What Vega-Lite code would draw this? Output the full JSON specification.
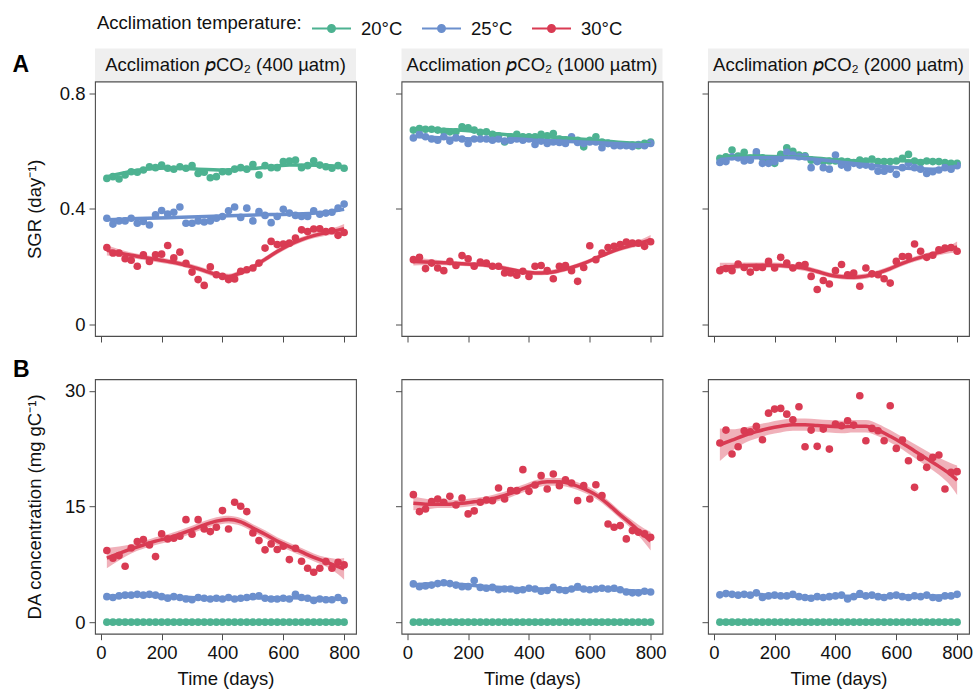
{
"$schema": "https://vega.github.io/schema/vega-lite/v6.json",
"padding": {"left": 12, "top": 7.5, "right": 2, "bottom": 3},
"config": {
  "font": "Liberation Sans",
  "view": {"stroke": "#4d4d4d", "strokeWidth": 1.1},
  "axis": {"grid": false, "domain": false, "ticks": true, "tickSize": 6, "tickColor": "#4d4d4d", "tickWidth": 1, "labelFontSize": 18.5, "titleFontSize": 18.5, "labelColor": "#111", "titleColor": "#111", "titleFontWeight": "normal", "labelPadding": 4},
  "title": {"color": "#000", "font": "Liberation Sans"}
},
"datasets": {
"pA400": [
{"t":"20°C","d":20,"v":0.505},{"t":"20°C","d":40,"v":0.511},{"t":"20°C","d":60,"v":0.503},{"t":"20°C","d":80,"v":0.517},{"t":"20°C","d":100,"v":0.528},{"t":"20°C","d":120,"v":0.526},{"t":"20°C","d":140,"v":0.534},{"t":"20°C","d":160,"v":0.545},{"t":"20°C","d":180,"v":0.542},{"t":"20°C","d":200,"v":0.551},{"t":"20°C","d":220,"v":0.540},{"t":"20°C","d":240,"v":0.537},{"t":"20°C","d":260,"v":0.545},{"t":"20°C","d":280,"v":0.540},{"t":"20°C","d":300,"v":0.549},{"t":"20°C","d":320,"v":0.522},{"t":"20°C","d":340,"v":0.526},{"t":"20°C","d":360,"v":0.507},{"t":"20°C","d":380,"v":0.511},{"t":"20°C","d":400,"v":0.528},{"t":"20°C","d":420,"v":0.528},{"t":"20°C","d":440,"v":0.537},{"t":"20°C","d":460,"v":0.542},{"t":"20°C","d":480,"v":0.537},{"t":"20°C","d":500,"v":0.553},{"t":"20°C","d":520,"v":0.517},{"t":"20°C","d":540,"v":0.549},{"t":"20°C","d":560,"v":0.542},{"t":"20°C","d":580,"v":0.542},{"t":"20°C","d":600,"v":0.563},{"t":"20°C","d":620,"v":0.565},{"t":"20°C","d":640,"v":0.568},{"t":"20°C","d":660,"v":0.542},{"t":"20°C","d":680,"v":0.549},{"t":"20°C","d":700,"v":0.566},{"t":"20°C","d":720,"v":0.551},{"t":"20°C","d":740,"v":0.545},{"t":"20°C","d":760,"v":0.540},{"t":"20°C","d":780,"v":0.549},{"t":"20°C","d":800,"v":0.540},
{"t":"25°C","d":20,"v":0.367},{"t":"25°C","d":40,"v":0.347},{"t":"25°C","d":60,"v":0.358},{"t":"25°C","d":80,"v":0.358},{"t":"25°C","d":100,"v":0.367},{"t":"25°C","d":120,"v":0.350},{"t":"25°C","d":140,"v":0.356},{"t":"25°C","d":160,"v":0.344},{"t":"25°C","d":180,"v":0.379},{"t":"25°C","d":200,"v":0.394},{"t":"25°C","d":220,"v":0.382},{"t":"25°C","d":240,"v":0.388},{"t":"25°C","d":260,"v":0.406},{"t":"25°C","d":280,"v":0.350},{"t":"25°C","d":300,"v":0.350},{"t":"25°C","d":320,"v":0.358},{"t":"25°C","d":340,"v":0.354},{"t":"25°C","d":360,"v":0.358},{"t":"25°C","d":380,"v":0.367},{"t":"25°C","d":400,"v":0.373},{"t":"25°C","d":420,"v":0.393},{"t":"25°C","d":440,"v":0.406},{"t":"25°C","d":460,"v":0.370},{"t":"25°C","d":480,"v":0.402},{"t":"25°C","d":500,"v":0.358},{"t":"25°C","d":520,"v":0.390},{"t":"25°C","d":540,"v":0.377},{"t":"25°C","d":560,"v":0.352},{"t":"25°C","d":580,"v":0.373},{"t":"25°C","d":600,"v":0.398},{"t":"25°C","d":620,"v":0.385},{"t":"25°C","d":640,"v":0.377},{"t":"25°C","d":660,"v":0.373},{"t":"25°C","d":680,"v":0.373},{"t":"25°C","d":700,"v":0.393},{"t":"25°C","d":720,"v":0.381},{"t":"25°C","d":740,"v":0.385},{"t":"25°C","d":760,"v":0.388},{"t":"25°C","d":780,"v":0.402},{"t":"25°C","d":800,"v":0.416},
{"t":"30°C","d":20,"v":0.266},{"t":"30°C","d":40,"v":0.247},{"t":"30°C","d":60,"v":0.247},{"t":"30°C","d":80,"v":0.227},{"t":"30°C","d":100,"v":0.222},{"t":"30°C","d":120,"v":0.201},{"t":"30°C","d":140,"v":0.241},{"t":"30°C","d":160,"v":0.218},{"t":"30°C","d":180,"v":0.241},{"t":"30°C","d":200,"v":0.243},{"t":"30°C","d":220,"v":0.273},{"t":"30°C","d":240,"v":0.230},{"t":"30°C","d":260,"v":0.250},{"t":"30°C","d":280,"v":0.211},{"t":"30°C","d":300,"v":0.181},{"t":"30°C","d":320,"v":0.155},{"t":"30°C","d":340,"v":0.135},{"t":"30°C","d":360,"v":0.199},{"t":"30°C","d":380,"v":0.172},{"t":"30°C","d":400,"v":0.166},{"t":"30°C","d":420,"v":0.155},{"t":"30°C","d":440,"v":0.157},{"t":"30°C","d":460,"v":0.184},{"t":"30°C","d":480,"v":0.189},{"t":"30°C","d":500,"v":0.195},{"t":"30°C","d":520,"v":0.212},{"t":"30°C","d":540,"v":0.264},{"t":"30°C","d":560,"v":0.287},{"t":"30°C","d":580,"v":0.276},{"t":"30°C","d":600,"v":0.278},{"t":"30°C","d":620,"v":0.281},{"t":"30°C","d":640,"v":0.299},{"t":"30°C","d":660,"v":0.327},{"t":"30°C","d":680,"v":0.321},{"t":"30°C","d":700,"v":0.330},{"t":"30°C","d":720,"v":0.331},{"t":"30°C","d":740,"v":0.321},{"t":"30°C","d":760,"v":0.324},{"t":"30°C","d":780,"v":0.308},{"t":"30°C","d":800,"v":0.318}
],
"fA400": [
{"t":"20°C","d":20,"f":0.510},{"t":"20°C","d":120,"f":0.533},{"t":"20°C","d":220,"f":0.541},{"t":"20°C","d":320,"f":0.537},{"t":"20°C","d":420,"f":0.534},{"t":"20°C","d":520,"f":0.541},{"t":"20°C","d":620,"f":0.551},{"t":"20°C","d":720,"f":0.550},{"t":"20°C","d":800,"f":0.545},
{"t":"25°C","d":20,"f":0.362},{"t":"25°C","d":120,"f":0.366},{"t":"25°C","d":220,"f":0.369},{"t":"25°C","d":320,"f":0.372},{"t":"25°C","d":420,"f":0.376},{"t":"25°C","d":520,"f":0.379},{"t":"25°C","d":620,"f":0.381},{"t":"25°C","d":720,"f":0.386},{"t":"25°C","d":800,"f":0.398},
{"t":"30°C","d":20,"f":0.256,"lo":0.238,"hi":0.274},{"t":"30°C","d":60,"f":0.247,"lo":0.234,"hi":0.260},{"t":"30°C","d":100,"f":0.239,"lo":0.229,"hi":0.249},{"t":"30°C","d":140,"f":0.232,"lo":0.223,"hi":0.241},{"t":"30°C","d":180,"f":0.225,"lo":0.216,"hi":0.234},{"t":"30°C","d":220,"f":0.218,"lo":0.209,"hi":0.227},{"t":"30°C","d":260,"f":0.210,"lo":0.201,"hi":0.219},{"t":"30°C","d":300,"f":0.199,"lo":0.190,"hi":0.208},{"t":"30°C","d":340,"f":0.186,"lo":0.177,"hi":0.195},{"t":"30°C","d":380,"f":0.172,"lo":0.163,"hi":0.181},{"t":"30°C","d":420,"f":0.166,"lo":0.157,"hi":0.175},{"t":"30°C","d":460,"f":0.178,"lo":0.169,"hi":0.187},{"t":"30°C","d":500,"f":0.198,"lo":0.189,"hi":0.207},{"t":"30°C","d":540,"f":0.225,"lo":0.216,"hi":0.234},{"t":"30°C","d":580,"f":0.252,"lo":0.243,"hi":0.261},{"t":"30°C","d":620,"f":0.275,"lo":0.266,"hi":0.284},{"t":"30°C","d":660,"f":0.293,"lo":0.284,"hi":0.302},{"t":"30°C","d":700,"f":0.307,"lo":0.298,"hi":0.316},{"t":"30°C","d":740,"f":0.317,"lo":0.307,"hi":0.327},{"t":"30°C","d":780,"f":0.326,"lo":0.313,"hi":0.339},{"t":"30°C","d":800,"f":0.331,"lo":0.315,"hi":0.347}
],
"pA1000": [
{"t":"20°C","d":20,"v":0.672},{"t":"20°C","d":40,"v":0.677},{"t":"20°C","d":60,"v":0.675},{"t":"20°C","d":80,"v":0.675},{"t":"20°C","d":100,"v":0.672},{"t":"20°C","d":120,"v":0.668},{"t":"20°C","d":140,"v":0.666},{"t":"20°C","d":160,"v":0.666},{"t":"20°C","d":180,"v":0.683},{"t":"20°C","d":200,"v":0.680},{"t":"20°C","d":220,"v":0.672},{"t":"20°C","d":240,"v":0.664},{"t":"20°C","d":260,"v":0.666},{"t":"20°C","d":280,"v":0.657},{"t":"20°C","d":300,"v":0.652},{"t":"20°C","d":320,"v":0.631},{"t":"20°C","d":340,"v":0.649},{"t":"20°C","d":360,"v":0.657},{"t":"20°C","d":380,"v":0.649},{"t":"20°C","d":400,"v":0.649},{"t":"20°C","d":420,"v":0.649},{"t":"20°C","d":440,"v":0.657},{"t":"20°C","d":460,"v":0.652},{"t":"20°C","d":480,"v":0.660},{"t":"20°C","d":500,"v":0.641},{"t":"20°C","d":520,"v":0.638},{"t":"20°C","d":540,"v":0.643},{"t":"20°C","d":560,"v":0.637},{"t":"20°C","d":580,"v":0.614},{"t":"20°C","d":600,"v":0.637},{"t":"20°C","d":620,"v":0.649},{"t":"20°C","d":640,"v":0.631},{"t":"20°C","d":660,"v":0.626},{"t":"20°C","d":680,"v":0.622},{"t":"20°C","d":700,"v":0.620},{"t":"20°C","d":720,"v":0.620},{"t":"20°C","d":740,"v":0.620},{"t":"20°C","d":760,"v":0.618},{"t":"20°C","d":780,"v":0.626},{"t":"20°C","d":800,"v":0.631},
{"t":"25°C","d":20,"v":0.645},{"t":"25°C","d":40,"v":0.657},{"t":"25°C","d":60,"v":0.649},{"t":"25°C","d":80,"v":0.641},{"t":"25°C","d":100,"v":0.637},{"t":"25°C","d":120,"v":0.649},{"t":"25°C","d":140,"v":0.634},{"t":"25°C","d":160,"v":0.645},{"t":"25°C","d":180,"v":0.641},{"t":"25°C","d":200,"v":0.626},{"t":"25°C","d":220,"v":0.641},{"t":"25°C","d":240,"v":0.641},{"t":"25°C","d":260,"v":0.641},{"t":"25°C","d":280,"v":0.637},{"t":"25°C","d":300,"v":0.641},{"t":"25°C","d":320,"v":0.634},{"t":"25°C","d":340,"v":0.637},{"t":"25°C","d":360,"v":0.641},{"t":"25°C","d":380,"v":0.637},{"t":"25°C","d":400,"v":0.641},{"t":"25°C","d":420,"v":0.622},{"t":"25°C","d":440,"v":0.634},{"t":"25°C","d":460,"v":0.626},{"t":"25°C","d":480,"v":0.631},{"t":"25°C","d":500,"v":0.629},{"t":"25°C","d":520,"v":0.626},{"t":"25°C","d":540,"v":0.649},{"t":"25°C","d":560,"v":0.629},{"t":"25°C","d":580,"v":0.626},{"t":"25°C","d":600,"v":0.631},{"t":"25°C","d":620,"v":0.631},{"t":"25°C","d":640,"v":0.611},{"t":"25°C","d":660,"v":0.626},{"t":"25°C","d":680,"v":0.618},{"t":"25°C","d":700,"v":0.618},{"t":"25°C","d":720,"v":0.618},{"t":"25°C","d":740,"v":0.615},{"t":"25°C","d":760,"v":0.622},{"t":"25°C","d":780,"v":0.618},{"t":"25°C","d":800,"v":0.626},
{"t":"30°C","d":20,"v":0.224},{"t":"30°C","d":40,"v":0.232},{"t":"30°C","d":60,"v":0.193},{"t":"30°C","d":80,"v":0.212},{"t":"30°C","d":100,"v":0.195},{"t":"30°C","d":120,"v":0.186},{"t":"30°C","d":140,"v":0.218},{"t":"30°C","d":160,"v":0.204},{"t":"30°C","d":180,"v":0.238},{"t":"30°C","d":200,"v":0.227},{"t":"30°C","d":220,"v":0.201},{"t":"30°C","d":240,"v":0.216},{"t":"30°C","d":260,"v":0.212},{"t":"30°C","d":280,"v":0.201},{"t":"30°C","d":300,"v":0.201},{"t":"30°C","d":320,"v":0.178},{"t":"30°C","d":340,"v":0.178},{"t":"30°C","d":360,"v":0.170},{"t":"30°C","d":380,"v":0.184},{"t":"30°C","d":400,"v":0.166},{"t":"30°C","d":420,"v":0.201},{"t":"30°C","d":440,"v":0.204},{"t":"30°C","d":460,"v":0.186},{"t":"30°C","d":480,"v":0.158},{"t":"30°C","d":500,"v":0.201},{"t":"30°C","d":520,"v":0.204},{"t":"30°C","d":540,"v":0.186},{"t":"30°C","d":560,"v":0.149},{"t":"30°C","d":580,"v":0.197},{"t":"30°C","d":600,"v":0.272},{"t":"30°C","d":620,"v":0.224},{"t":"30°C","d":640,"v":0.247},{"t":"30°C","d":660,"v":0.266},{"t":"30°C","d":680,"v":0.270},{"t":"30°C","d":700,"v":0.276},{"t":"30°C","d":720,"v":0.285},{"t":"30°C","d":740,"v":0.281},{"t":"30°C","d":760,"v":0.281},{"t":"30°C","d":780,"v":0.270},{"t":"30°C","d":800,"v":0.286}
],
"fA1000": [
{"t":"20°C","d":20,"f":0.675},{"t":"20°C","d":120,"f":0.674},{"t":"20°C","d":220,"f":0.668},{"t":"20°C","d":320,"f":0.657},{"t":"20°C","d":420,"f":0.650},{"t":"20°C","d":520,"f":0.645},{"t":"20°C","d":620,"f":0.637},{"t":"20°C","d":720,"f":0.628},{"t":"20°C","d":800,"f":0.625},
{"t":"25°C","d":20,"f":0.650},{"t":"25°C","d":120,"f":0.645},{"t":"25°C","d":220,"f":0.641},{"t":"25°C","d":320,"f":0.638},{"t":"25°C","d":420,"f":0.637},{"t":"25°C","d":520,"f":0.633},{"t":"25°C","d":620,"f":0.629},{"t":"25°C","d":720,"f":0.623},{"t":"25°C","d":800,"f":0.621},
{"t":"30°C","d":20,"f":0.218,"lo":0.204,"hi":0.232},{"t":"30°C","d":60,"f":0.216,"lo":0.205,"hi":0.227},{"t":"30°C","d":100,"f":0.214,"lo":0.205,"hi":0.223},{"t":"30°C","d":140,"f":0.212,"lo":0.204,"hi":0.220},{"t":"30°C","d":180,"f":0.210,"lo":0.202,"hi":0.218},{"t":"30°C","d":220,"f":0.208,"lo":0.200,"hi":0.216},{"t":"30°C","d":260,"f":0.205,"lo":0.197,"hi":0.213},{"t":"30°C","d":300,"f":0.198,"lo":0.190,"hi":0.206},{"t":"30°C","d":340,"f":0.190,"lo":0.182,"hi":0.198},{"t":"30°C","d":380,"f":0.182,"lo":0.174,"hi":0.190},{"t":"30°C","d":420,"f":0.178,"lo":0.170,"hi":0.186},{"t":"30°C","d":460,"f":0.179,"lo":0.171,"hi":0.187},{"t":"30°C","d":500,"f":0.186,"lo":0.178,"hi":0.194},{"t":"30°C","d":540,"f":0.197,"lo":0.189,"hi":0.205},{"t":"30°C","d":580,"f":0.211,"lo":0.203,"hi":0.219},{"t":"30°C","d":620,"f":0.229,"lo":0.221,"hi":0.237},{"t":"30°C","d":660,"f":0.247,"lo":0.239,"hi":0.255},{"t":"30°C","d":700,"f":0.262,"lo":0.254,"hi":0.270},{"t":"30°C","d":740,"f":0.274,"lo":0.265,"hi":0.283},{"t":"30°C","d":780,"f":0.286,"lo":0.273,"hi":0.299},{"t":"30°C","d":800,"f":0.293,"lo":0.277,"hi":0.309}
],
"pA2000": [
{"t":"20°C","d":20,"v":0.574},{"t":"20°C","d":40,"v":0.580},{"t":"20°C","d":60,"v":0.603},{"t":"20°C","d":80,"v":0.582},{"t":"20°C","d":100,"v":0.595},{"t":"20°C","d":120,"v":0.574},{"t":"20°C","d":140,"v":0.588},{"t":"20°C","d":160,"v":0.576},{"t":"20°C","d":180,"v":0.568},{"t":"20°C","d":200,"v":0.557},{"t":"20°C","d":220,"v":0.588},{"t":"20°C","d":240,"v":0.611},{"t":"20°C","d":260,"v":0.599},{"t":"20°C","d":280,"v":0.586},{"t":"20°C","d":300,"v":0.583},{"t":"20°C","d":320,"v":0.568},{"t":"20°C","d":340,"v":0.565},{"t":"20°C","d":360,"v":0.563},{"t":"20°C","d":380,"v":0.565},{"t":"20°C","d":400,"v":0.565},{"t":"20°C","d":420,"v":0.565},{"t":"20°C","d":440,"v":0.563},{"t":"20°C","d":460,"v":0.560},{"t":"20°C","d":480,"v":0.568},{"t":"20°C","d":500,"v":0.565},{"t":"20°C","d":520,"v":0.572},{"t":"20°C","d":540,"v":0.563},{"t":"20°C","d":560,"v":0.563},{"t":"20°C","d":580,"v":0.563},{"t":"20°C","d":600,"v":0.565},{"t":"20°C","d":620,"v":0.574},{"t":"20°C","d":640,"v":0.588},{"t":"20°C","d":660,"v":0.565},{"t":"20°C","d":680,"v":0.560},{"t":"20°C","d":700,"v":0.565},{"t":"20°C","d":720,"v":0.563},{"t":"20°C","d":740,"v":0.563},{"t":"20°C","d":760,"v":0.560},{"t":"20°C","d":780,"v":0.557},{"t":"20°C","d":800,"v":0.557},
{"t":"25°C","d":20,"v":0.560},{"t":"25°C","d":40,"v":0.563},{"t":"25°C","d":60,"v":0.580},{"t":"25°C","d":80,"v":0.576},{"t":"25°C","d":100,"v":0.565},{"t":"25°C","d":120,"v":0.568},{"t":"25°C","d":140,"v":0.597},{"t":"25°C","d":160,"v":0.557},{"t":"25°C","d":180,"v":0.557},{"t":"25°C","d":200,"v":0.563},{"t":"25°C","d":220,"v":0.574},{"t":"25°C","d":240,"v":0.595},{"t":"25°C","d":260,"v":0.586},{"t":"25°C","d":280,"v":0.580},{"t":"25°C","d":300,"v":0.580},{"t":"25°C","d":320,"v":0.542},{"t":"25°C","d":340,"v":0.563},{"t":"25°C","d":360,"v":0.542},{"t":"25°C","d":380,"v":0.537},{"t":"25°C","d":400,"v":0.586},{"t":"25°C","d":420,"v":0.551},{"t":"25°C","d":440,"v":0.542},{"t":"25°C","d":460,"v":0.557},{"t":"25°C","d":480,"v":0.551},{"t":"25°C","d":500,"v":0.551},{"t":"25°C","d":520,"v":0.545},{"t":"25°C","d":540,"v":0.530},{"t":"25°C","d":560,"v":0.530},{"t":"25°C","d":580,"v":0.537},{"t":"25°C","d":600,"v":0.519},{"t":"25°C","d":620,"v":0.542},{"t":"25°C","d":640,"v":0.557},{"t":"25°C","d":660,"v":0.542},{"t":"25°C","d":680,"v":0.537},{"t":"25°C","d":700,"v":0.522},{"t":"25°C","d":720,"v":0.528},{"t":"25°C","d":740,"v":0.534},{"t":"25°C","d":760,"v":0.542},{"t":"25°C","d":780,"v":0.537},{"t":"25°C","d":800,"v":0.549},
{"t":"30°C","d":20,"v":0.186},{"t":"30°C","d":40,"v":0.193},{"t":"30°C","d":60,"v":0.186},{"t":"30°C","d":80,"v":0.209},{"t":"30°C","d":100,"v":0.197},{"t":"30°C","d":120,"v":0.181},{"t":"30°C","d":140,"v":0.197},{"t":"30°C","d":160,"v":0.197},{"t":"30°C","d":180,"v":0.218},{"t":"30°C","d":200,"v":0.195},{"t":"30°C","d":220,"v":0.232},{"t":"30°C","d":240,"v":0.212},{"t":"30°C","d":260,"v":0.195},{"t":"30°C","d":280,"v":0.204},{"t":"30°C","d":300,"v":0.207},{"t":"30°C","d":320,"v":0.166},{"t":"30°C","d":340,"v":0.121},{"t":"30°C","d":360,"v":0.152},{"t":"30°C","d":380,"v":0.140},{"t":"30°C","d":400,"v":0.186},{"t":"30°C","d":420,"v":0.207},{"t":"30°C","d":440,"v":0.172},{"t":"30°C","d":460,"v":0.178},{"t":"30°C","d":480,"v":0.132},{"t":"30°C","d":500,"v":0.195},{"t":"30°C","d":520,"v":0.175},{"t":"30°C","d":540,"v":0.172},{"t":"30°C","d":560,"v":0.158},{"t":"30°C","d":580,"v":0.143},{"t":"30°C","d":600,"v":0.218},{"t":"30°C","d":620,"v":0.235},{"t":"30°C","d":640,"v":0.235},{"t":"30°C","d":660,"v":0.278},{"t":"30°C","d":680,"v":0.253},{"t":"30°C","d":700,"v":0.232},{"t":"30°C","d":720,"v":0.239},{"t":"30°C","d":740,"v":0.258},{"t":"30°C","d":760,"v":0.264},{"t":"30°C","d":780,"v":0.266},{"t":"30°C","d":800,"v":0.253}
],
"fA2000": [
{"t":"20°C","d":20,"f":0.578},{"t":"20°C","d":120,"f":0.582},{"t":"20°C","d":220,"f":0.580},{"t":"20°C","d":320,"f":0.576},{"t":"20°C","d":420,"f":0.568},{"t":"20°C","d":520,"f":0.565},{"t":"20°C","d":620,"f":0.566},{"t":"20°C","d":720,"f":0.563},{"t":"20°C","d":800,"f":0.558},
{"t":"25°C","d":20,"f":0.570},{"t":"25°C","d":120,"f":0.576},{"t":"25°C","d":220,"f":0.577},{"t":"25°C","d":320,"f":0.572},{"t":"25°C","d":420,"f":0.561},{"t":"25°C","d":520,"f":0.550},{"t":"25°C","d":620,"f":0.541},{"t":"25°C","d":720,"f":0.537},{"t":"25°C","d":800,"f":0.545},
{"t":"30°C","d":20,"f":0.195,"lo":0.177,"hi":0.213},{"t":"30°C","d":60,"f":0.200,"lo":0.187,"hi":0.213},{"t":"30°C","d":100,"f":0.204,"lo":0.194,"hi":0.214},{"t":"30°C","d":140,"f":0.205,"lo":0.196,"hi":0.214},{"t":"30°C","d":180,"f":0.205,"lo":0.196,"hi":0.214},{"t":"30°C","d":220,"f":0.204,"lo":0.195,"hi":0.213},{"t":"30°C","d":260,"f":0.200,"lo":0.191,"hi":0.209},{"t":"30°C","d":300,"f":0.194,"lo":0.185,"hi":0.203},{"t":"30°C","d":340,"f":0.183,"lo":0.174,"hi":0.192},{"t":"30°C","d":380,"f":0.171,"lo":0.162,"hi":0.180},{"t":"30°C","d":420,"f":0.165,"lo":0.156,"hi":0.174},{"t":"30°C","d":460,"f":0.163,"lo":0.154,"hi":0.172},{"t":"30°C","d":500,"f":0.167,"lo":0.158,"hi":0.176},{"t":"30°C","d":540,"f":0.178,"lo":0.169,"hi":0.187},{"t":"30°C","d":580,"f":0.193,"lo":0.184,"hi":0.202},{"t":"30°C","d":620,"f":0.211,"lo":0.202,"hi":0.220},{"t":"30°C","d":660,"f":0.226,"lo":0.217,"hi":0.235},{"t":"30°C","d":700,"f":0.238,"lo":0.229,"hi":0.247},{"t":"30°C","d":740,"f":0.249,"lo":0.239,"hi":0.259},{"t":"30°C","d":780,"f":0.261,"lo":0.247,"hi":0.275},{"t":"30°C","d":800,"f":0.268,"lo":0.249,"hi":0.287}
],
"pB400": [
{"t":"20°C","d":20,"v":0},{"t":"20°C","d":40,"v":0},{"t":"20°C","d":60,"v":0},{"t":"20°C","d":80,"v":0},{"t":"20°C","d":100,"v":0},{"t":"20°C","d":120,"v":0},{"t":"20°C","d":140,"v":0},{"t":"20°C","d":160,"v":0},{"t":"20°C","d":180,"v":0},{"t":"20°C","d":200,"v":0},{"t":"20°C","d":220,"v":0},{"t":"20°C","d":240,"v":0},{"t":"20°C","d":260,"v":0},{"t":"20°C","d":280,"v":0},{"t":"20°C","d":300,"v":0},{"t":"20°C","d":320,"v":0},{"t":"20°C","d":340,"v":0},{"t":"20°C","d":360,"v":0},{"t":"20°C","d":380,"v":0},{"t":"20°C","d":400,"v":0},{"t":"20°C","d":420,"v":0},{"t":"20°C","d":440,"v":0},{"t":"20°C","d":460,"v":0},{"t":"20°C","d":480,"v":0},{"t":"20°C","d":500,"v":0},{"t":"20°C","d":520,"v":0},{"t":"20°C","d":540,"v":0},{"t":"20°C","d":560,"v":0},{"t":"20°C","d":580,"v":0},{"t":"20°C","d":600,"v":0},{"t":"20°C","d":620,"v":0},{"t":"20°C","d":640,"v":0},{"t":"20°C","d":660,"v":0},{"t":"20°C","d":680,"v":0},{"t":"20°C","d":700,"v":0},{"t":"20°C","d":720,"v":0},{"t":"20°C","d":740,"v":0},{"t":"20°C","d":760,"v":0},{"t":"20°C","d":780,"v":0},{"t":"20°C","d":800,"v":0},
{"t":"25°C","d":20,"v":3.3},{"t":"25°C","d":40,"v":3.2},{"t":"25°C","d":60,"v":3.4},{"t":"25°C","d":80,"v":3.5},{"t":"25°C","d":100,"v":3.5},{"t":"25°C","d":120,"v":3.6},{"t":"25°C","d":140,"v":3.5},{"t":"25°C","d":160,"v":3.6},{"t":"25°C","d":180,"v":3.5},{"t":"25°C","d":200,"v":3.3},{"t":"25°C","d":220,"v":3.1},{"t":"25°C","d":240,"v":3.3},{"t":"25°C","d":260,"v":3.2},{"t":"25°C","d":280,"v":3.0},{"t":"25°C","d":300,"v":2.9},{"t":"25°C","d":320,"v":3.2},{"t":"25°C","d":340,"v":3.1},{"t":"25°C","d":360,"v":3.0},{"t":"25°C","d":380,"v":3.1},{"t":"25°C","d":400,"v":3.0},{"t":"25°C","d":420,"v":3.2},{"t":"25°C","d":440,"v":3.0},{"t":"25°C","d":460,"v":3.1},{"t":"25°C","d":480,"v":3.2},{"t":"25°C","d":500,"v":3.3},{"t":"25°C","d":520,"v":3.4},{"t":"25°C","d":540,"v":3.1},{"t":"25°C","d":560,"v":3.0},{"t":"25°C","d":580,"v":3.0},{"t":"25°C","d":600,"v":3.1},{"t":"25°C","d":620,"v":3.0},{"t":"25°C","d":640,"v":3.6},{"t":"25°C","d":660,"v":3.2},{"t":"25°C","d":680,"v":3.1},{"t":"25°C","d":700,"v":2.8},{"t":"25°C","d":720,"v":3.0},{"t":"25°C","d":740,"v":2.9},{"t":"25°C","d":760,"v":2.9},{"t":"25°C","d":780,"v":3.2},{"t":"25°C","d":800,"v":2.8},
{"t":"30°C","d":20,"v":9.28},{"t":"30°C","d":40,"v":8.29},{"t":"30°C","d":60,"v":8.63},{"t":"30°C","d":80,"v":7.25},{"t":"30°C","d":100,"v":9.62},{"t":"30°C","d":120,"v":10.44},{"t":"30°C","d":140,"v":10.70},{"t":"30°C","d":160,"v":10.01},{"t":"30°C","d":180,"v":8.50},{"t":"30°C","d":200,"v":11.44},{"t":"30°C","d":220,"v":10.79},{"t":"30°C","d":240,"v":10.88},{"t":"30°C","d":260,"v":11.14},{"t":"30°C","d":280,"v":13.29},{"t":"30°C","d":300,"v":11.39},{"t":"30°C","d":320,"v":13.29},{"t":"30°C","d":340,"v":12.08},{"t":"30°C","d":360,"v":11.74},{"t":"30°C","d":380,"v":12.30},{"t":"30°C","d":400,"v":14.46},{"t":"30°C","d":420,"v":12.08},{"t":"30°C","d":440,"v":15.54},{"t":"30°C","d":460,"v":15.02},{"t":"30°C","d":480,"v":14.33},{"t":"30°C","d":500,"v":11.57},{"t":"30°C","d":520,"v":10.57},{"t":"30°C","d":540,"v":9.37},{"t":"30°C","d":560,"v":10.14},{"t":"30°C","d":580,"v":9.41},{"t":"30°C","d":600,"v":9.84},{"t":"30°C","d":620,"v":8.11},{"t":"30°C","d":640,"v":9.58},{"t":"30°C","d":660,"v":7.90},{"t":"30°C","d":680,"v":6.99},{"t":"30°C","d":700,"v":6.47},{"t":"30°C","d":720,"v":6.99},{"t":"30°C","d":740,"v":7.85},{"t":"30°C","d":760,"v":6.99},{"t":"30°C","d":780,"v":7.77},{"t":"30°C","d":800,"v":7.42}
],
"fB400": [
{"t":"20°C","d":20,"f":0},{"t":"20°C","d":420,"f":0},{"t":"20°C","d":800,"f":0},
{"t":"25°C","d":20,"f":3.35},{"t":"25°C","d":120,"f":3.5},{"t":"25°C","d":220,"f":3.35},{"t":"25°C","d":320,"f":3.15},{"t":"25°C","d":420,"f":3.1},{"t":"25°C","d":520,"f":3.15},{"t":"25°C","d":620,"f":3.15},{"t":"25°C","d":720,"f":3.05},{"t":"25°C","d":800,"f":3.0},
{"t":"30°C","d":20,"f":8.3,"lo":7.0,"hi":9.6},{"t":"30°C","d":60,"f":8.9,"lo":8.0,"hi":9.8},{"t":"30°C","d":100,"f":9.5,"lo":8.9,"hi":10.1},{"t":"30°C","d":140,"f":10.0,"lo":9.5,"hi":10.5},{"t":"30°C","d":180,"f":10.5,"lo":10.0,"hi":11.0},{"t":"30°C","d":220,"f":10.9,"lo":10.4,"hi":11.4},{"t":"30°C","d":260,"f":11.4,"lo":10.9,"hi":11.9},{"t":"30°C","d":300,"f":12.0,"lo":11.5,"hi":12.5},{"t":"30°C","d":340,"f":12.6,"lo":12.1,"hi":13.1},{"t":"30°C","d":380,"f":13.1,"lo":12.6,"hi":13.6},{"t":"30°C","d":420,"f":13.3,"lo":12.8,"hi":13.8},{"t":"30°C","d":460,"f":13.0,"lo":12.5,"hi":13.5},{"t":"30°C","d":500,"f":12.2,"lo":11.7,"hi":12.7},{"t":"30°C","d":540,"f":11.4,"lo":10.9,"hi":11.9},{"t":"30°C","d":580,"f":10.5,"lo":10.0,"hi":11.0},{"t":"30°C","d":620,"f":9.8,"lo":9.3,"hi":10.3},{"t":"30°C","d":660,"f":9.1,"lo":8.6,"hi":9.6},{"t":"30°C","d":700,"f":8.4,"lo":7.9,"hi":8.9},{"t":"30°C","d":740,"f":7.8,"lo":7.2,"hi":8.4},{"t":"30°C","d":780,"f":7.2,"lo":6.2,"hi":8.2},{"t":"30°C","d":800,"f":6.9,"lo":5.5,"hi":8.3}
],
"pB1000": [
{"t":"20°C","d":20,"v":0},{"t":"20°C","d":40,"v":0},{"t":"20°C","d":60,"v":0},{"t":"20°C","d":80,"v":0},{"t":"20°C","d":100,"v":0},{"t":"20°C","d":120,"v":0},{"t":"20°C","d":140,"v":0},{"t":"20°C","d":160,"v":0},{"t":"20°C","d":180,"v":0},{"t":"20°C","d":200,"v":0},{"t":"20°C","d":220,"v":0},{"t":"20°C","d":240,"v":0},{"t":"20°C","d":260,"v":0},{"t":"20°C","d":280,"v":0},{"t":"20°C","d":300,"v":0},{"t":"20°C","d":320,"v":0},{"t":"20°C","d":340,"v":0},{"t":"20°C","d":360,"v":0},{"t":"20°C","d":380,"v":0},{"t":"20°C","d":400,"v":0},{"t":"20°C","d":420,"v":0},{"t":"20°C","d":440,"v":0},{"t":"20°C","d":460,"v":0},{"t":"20°C","d":480,"v":0},{"t":"20°C","d":500,"v":0},{"t":"20°C","d":520,"v":0},{"t":"20°C","d":540,"v":0},{"t":"20°C","d":560,"v":0},{"t":"20°C","d":580,"v":0},{"t":"20°C","d":600,"v":0},{"t":"20°C","d":620,"v":0},{"t":"20°C","d":640,"v":0},{"t":"20°C","d":660,"v":0},{"t":"20°C","d":680,"v":0},{"t":"20°C","d":700,"v":0},{"t":"20°C","d":720,"v":0},{"t":"20°C","d":740,"v":0},{"t":"20°C","d":760,"v":0},{"t":"20°C","d":780,"v":0},{"t":"20°C","d":800,"v":0},
{"t":"25°C","d":20,"v":4.96},{"t":"25°C","d":40,"v":4.6},{"t":"25°C","d":60,"v":4.7},{"t":"25°C","d":80,"v":4.8},{"t":"25°C","d":100,"v":5.0},{"t":"25°C","d":120,"v":5.1},{"t":"25°C","d":140,"v":5.0},{"t":"25°C","d":160,"v":4.8},{"t":"25°C","d":180,"v":4.6},{"t":"25°C","d":200,"v":4.6},{"t":"25°C","d":220,"v":5.4},{"t":"25°C","d":240,"v":4.5},{"t":"25°C","d":260,"v":4.4},{"t":"25°C","d":280,"v":4.5},{"t":"25°C","d":300,"v":4.2},{"t":"25°C","d":320,"v":4.3},{"t":"25°C","d":340,"v":4.3},{"t":"25°C","d":360,"v":4.1},{"t":"25°C","d":380,"v":4.2},{"t":"25°C","d":400,"v":4.4},{"t":"25°C","d":420,"v":4.3},{"t":"25°C","d":440,"v":4.0},{"t":"25°C","d":460,"v":4.1},{"t":"25°C","d":480,"v":4.5},{"t":"25°C","d":500,"v":4.2},{"t":"25°C","d":520,"v":4.1},{"t":"25°C","d":540,"v":4.3},{"t":"25°C","d":560,"v":4.6},{"t":"25°C","d":580,"v":4.3},{"t":"25°C","d":600,"v":4.2},{"t":"25°C","d":620,"v":4.3},{"t":"25°C","d":640,"v":4.4},{"t":"25°C","d":660,"v":4.3},{"t":"25°C","d":680,"v":4.4},{"t":"25°C","d":700,"v":4.2},{"t":"25°C","d":720,"v":3.9},{"t":"25°C","d":740,"v":3.8},{"t":"25°C","d":760,"v":3.8},{"t":"25°C","d":780,"v":4.0},{"t":"25°C","d":800,"v":3.9},
{"t":"30°C","d":20,"v":16.53},{"t":"30°C","d":40,"v":14.33},{"t":"30°C","d":60,"v":14.67},{"t":"30°C","d":80,"v":15.62},{"t":"30°C","d":100,"v":15.97},{"t":"30°C","d":120,"v":15.54},{"t":"30°C","d":140,"v":16.31},{"t":"30°C","d":160,"v":15.19},{"t":"30°C","d":180,"v":16.10},{"t":"30°C","d":200,"v":14.03},{"t":"30°C","d":220,"v":14.42},{"t":"30°C","d":240,"v":15.54},{"t":"30°C","d":260,"v":15.84},{"t":"30°C","d":280,"v":15.75},{"t":"30°C","d":300,"v":17.39},{"t":"30°C","d":320,"v":15.97},{"t":"30°C","d":340,"v":17.05},{"t":"30°C","d":360,"v":17.05},{"t":"30°C","d":380,"v":19.77},{"t":"30°C","d":400,"v":16.96},{"t":"30°C","d":420,"v":17.78},{"t":"30°C","d":440,"v":18.99},{"t":"30°C","d":460,"v":17.26},{"t":"30°C","d":480,"v":19.21},{"t":"30°C","d":500,"v":17.70},{"t":"30°C","d":520,"v":18.47},{"t":"30°C","d":540,"v":18.04},{"t":"30°C","d":560,"v":15.75},{"t":"30°C","d":580,"v":17.70},{"t":"30°C","d":600,"v":15.97},{"t":"30°C","d":620,"v":17.82},{"t":"30°C","d":640,"v":16.40},{"t":"30°C","d":660,"v":12.73},{"t":"30°C","d":680,"v":12.30},{"t":"30°C","d":700,"v":12.52},{"t":"30°C","d":720,"v":10.79},{"t":"30°C","d":740,"v":11.87},{"t":"30°C","d":760,"v":11.65},{"t":"30°C","d":780,"v":11.44},{"t":"30°C","d":800,"v":11.01}
],
"fB1000": [
{"t":"20°C","d":20,"f":0},{"t":"20°C","d":420,"f":0},{"t":"20°C","d":800,"f":0},
{"t":"25°C","d":20,"f":4.85},{"t":"25°C","d":120,"f":5.0},{"t":"25°C","d":220,"f":4.75},{"t":"25°C","d":320,"f":4.45},{"t":"25°C","d":420,"f":4.3},{"t":"25°C","d":520,"f":4.3},{"t":"25°C","d":620,"f":4.3},{"t":"25°C","d":720,"f":4.1},{"t":"25°C","d":800,"f":3.95},
{"t":"30°C","d":20,"f":15.4,"lo":14.5,"hi":16.3},{"t":"30°C","d":60,"f":15.3,"lo":14.6,"hi":16.0},{"t":"30°C","d":100,"f":15.3,"lo":14.8,"hi":15.8},{"t":"30°C","d":140,"f":15.3,"lo":14.8,"hi":15.8},{"t":"30°C","d":180,"f":15.4,"lo":14.9,"hi":15.9},{"t":"30°C","d":220,"f":15.6,"lo":15.1,"hi":16.1},{"t":"30°C","d":260,"f":15.8,"lo":15.3,"hi":16.3},{"t":"30°C","d":300,"f":16.2,"lo":15.7,"hi":16.7},{"t":"30°C","d":340,"f":16.7,"lo":16.2,"hi":17.2},{"t":"30°C","d":380,"f":17.3,"lo":16.8,"hi":17.8},{"t":"30°C","d":420,"f":17.9,"lo":17.4,"hi":18.4},{"t":"30°C","d":460,"f":18.2,"lo":17.7,"hi":18.7},{"t":"30°C","d":500,"f":18.2,"lo":17.7,"hi":18.7},{"t":"30°C","d":540,"f":17.9,"lo":17.4,"hi":18.4},{"t":"30°C","d":580,"f":17.3,"lo":16.8,"hi":17.8},{"t":"30°C","d":620,"f":16.5,"lo":16.0,"hi":17.0},{"t":"30°C","d":660,"f":15.3,"lo":14.8,"hi":15.8},{"t":"30°C","d":700,"f":13.9,"lo":13.4,"hi":14.4},{"t":"30°C","d":740,"f":12.6,"lo":12.0,"hi":13.2},{"t":"30°C","d":780,"f":11.2,"lo":10.3,"hi":12.1},{"t":"30°C","d":800,"f":10.5,"lo":9.3,"hi":11.7}
],
"pB2000": [
{"t":"20°C","d":20,"v":0},{"t":"20°C","d":40,"v":0},{"t":"20°C","d":60,"v":0},{"t":"20°C","d":80,"v":0},{"t":"20°C","d":100,"v":0},{"t":"20°C","d":120,"v":0},{"t":"20°C","d":140,"v":0},{"t":"20°C","d":160,"v":0},{"t":"20°C","d":180,"v":0},{"t":"20°C","d":200,"v":0},{"t":"20°C","d":220,"v":0},{"t":"20°C","d":240,"v":0},{"t":"20°C","d":260,"v":0},{"t":"20°C","d":280,"v":0},{"t":"20°C","d":300,"v":0},{"t":"20°C","d":320,"v":0},{"t":"20°C","d":340,"v":0},{"t":"20°C","d":360,"v":0},{"t":"20°C","d":380,"v":0},{"t":"20°C","d":400,"v":0},{"t":"20°C","d":420,"v":0},{"t":"20°C","d":440,"v":0},{"t":"20°C","d":460,"v":0},{"t":"20°C","d":480,"v":0},{"t":"20°C","d":500,"v":0},{"t":"20°C","d":520,"v":0},{"t":"20°C","d":540,"v":0},{"t":"20°C","d":560,"v":0},{"t":"20°C","d":580,"v":0},{"t":"20°C","d":600,"v":0},{"t":"20°C","d":620,"v":0},{"t":"20°C","d":640,"v":0},{"t":"20°C","d":660,"v":0},{"t":"20°C","d":680,"v":0},{"t":"20°C","d":700,"v":0},{"t":"20°C","d":720,"v":0},{"t":"20°C","d":740,"v":0},{"t":"20°C","d":760,"v":0},{"t":"20°C","d":780,"v":0},{"t":"20°C","d":800,"v":0},
{"t":"25°C","d":20,"v":3.54},{"t":"25°C","d":40,"v":3.7},{"t":"25°C","d":60,"v":3.6},{"t":"25°C","d":80,"v":3.5},{"t":"25°C","d":100,"v":3.6},{"t":"25°C","d":120,"v":3.5},{"t":"25°C","d":140,"v":3.8},{"t":"25°C","d":160,"v":3.2},{"t":"25°C","d":180,"v":3.4},{"t":"25°C","d":200,"v":3.5},{"t":"25°C","d":220,"v":3.4},{"t":"25°C","d":240,"v":3.4},{"t":"25°C","d":260,"v":3.6},{"t":"25°C","d":280,"v":3.3},{"t":"25°C","d":300,"v":3.2},{"t":"25°C","d":320,"v":3.1},{"t":"25°C","d":340,"v":3.3},{"t":"25°C","d":360,"v":3.2},{"t":"25°C","d":380,"v":3.3},{"t":"25°C","d":400,"v":3.4},{"t":"25°C","d":420,"v":3.5},{"t":"25°C","d":440,"v":3.0},{"t":"25°C","d":460,"v":3.3},{"t":"25°C","d":480,"v":3.7},{"t":"25°C","d":500,"v":3.4},{"t":"25°C","d":520,"v":3.5},{"t":"25°C","d":540,"v":3.3},{"t":"25°C","d":560,"v":3.2},{"t":"25°C","d":580,"v":3.4},{"t":"25°C","d":600,"v":3.5},{"t":"25°C","d":620,"v":3.3},{"t":"25°C","d":640,"v":3.2},{"t":"25°C","d":660,"v":3.4},{"t":"25°C","d":680,"v":3.3},{"t":"25°C","d":700,"v":3.5},{"t":"25°C","d":720,"v":3.2},{"t":"25°C","d":740,"v":3.1},{"t":"25°C","d":760,"v":3.4},{"t":"25°C","d":780,"v":3.4},{"t":"25°C","d":800,"v":3.6},
{"t":"30°C","d":20,"v":23.22},{"t":"30°C","d":40,"v":24.90},{"t":"30°C","d":60,"v":21.80},{"t":"30°C","d":80,"v":22.74},{"t":"30°C","d":100,"v":24.82},{"t":"30°C","d":120,"v":24.69},{"t":"30°C","d":140,"v":25.38},{"t":"30°C","d":160,"v":23.65},{"t":"30°C","d":180,"v":27.10},{"t":"30°C","d":200,"v":27.62},{"t":"30°C","d":220,"v":27.71},{"t":"30°C","d":240,"v":26.97},{"t":"30°C","d":260,"v":26.24},{"t":"30°C","d":280,"v":27.92},{"t":"30°C","d":300,"v":22.74},{"t":"30°C","d":320,"v":24.90},{"t":"30°C","d":340,"v":22.79},{"t":"30°C","d":360,"v":25.03},{"t":"30°C","d":380,"v":22.44},{"t":"30°C","d":400,"v":25.68},{"t":"30°C","d":420,"v":25.46},{"t":"30°C","d":440,"v":26.11},{"t":"30°C","d":460,"v":25.55},{"t":"30°C","d":480,"v":29.35},{"t":"30°C","d":500,"v":23.52},{"t":"30°C","d":520,"v":25.12},{"t":"30°C","d":540,"v":24.82},{"t":"30°C","d":560,"v":23.52},{"t":"30°C","d":580,"v":28.05},{"t":"30°C","d":600,"v":22.53},{"t":"30°C","d":620,"v":23.61},{"t":"30°C","d":640,"v":20.93},{"t":"30°C","d":660,"v":17.48},{"t":"30°C","d":680,"v":21.36},{"t":"30°C","d":700,"v":20.07},{"t":"30°C","d":720,"v":21.36},{"t":"30°C","d":740,"v":21.67},{"t":"30°C","d":760,"v":17.26},{"t":"30°C","d":780,"v":19.42},{"t":"30°C","d":800,"v":19.51}
],
"fB2000": [
{"t":"20°C","d":20,"f":0},{"t":"20°C","d":420,"f":0},{"t":"20°C","d":800,"f":0},
{"t":"25°C","d":20,"f":3.6},{"t":"25°C","d":120,"f":3.6},{"t":"25°C","d":220,"f":3.45},{"t":"25°C","d":320,"f":3.3},{"t":"25°C","d":420,"f":3.35},{"t":"25°C","d":520,"f":3.4},{"t":"25°C","d":620,"f":3.4},{"t":"25°C","d":720,"f":3.4},{"t":"25°C","d":800,"f":3.45},
{"t":"30°C","d":20,"f":23.0,"lo":20.9,"hi":25.1},{"t":"30°C","d":60,"f":23.6,"lo":22.2,"hi":25.0},{"t":"30°C","d":100,"f":24.2,"lo":23.2,"hi":25.2},{"t":"30°C","d":140,"f":24.7,"lo":23.8,"hi":25.6},{"t":"30°C","d":180,"f":25.1,"lo":24.3,"hi":25.9},{"t":"30°C","d":220,"f":25.4,"lo":24.6,"hi":26.2},{"t":"30°C","d":260,"f":25.6,"lo":24.8,"hi":26.4},{"t":"30°C","d":300,"f":25.6,"lo":24.8,"hi":26.4},{"t":"30°C","d":340,"f":25.5,"lo":24.7,"hi":26.3},{"t":"30°C","d":380,"f":25.4,"lo":24.6,"hi":26.2},{"t":"30°C","d":420,"f":25.3,"lo":24.5,"hi":26.1},{"t":"30°C","d":460,"f":25.4,"lo":24.6,"hi":26.2},{"t":"30°C","d":500,"f":25.4,"lo":24.6,"hi":26.2},{"t":"30°C","d":540,"f":24.9,"lo":24.1,"hi":25.7},{"t":"30°C","d":580,"f":24.1,"lo":23.3,"hi":24.9},{"t":"30°C","d":620,"f":23.2,"lo":22.4,"hi":24.0},{"t":"30°C","d":660,"f":22.2,"lo":21.3,"hi":23.1},{"t":"30°C","d":700,"f":21.2,"lo":20.2,"hi":22.2},{"t":"30°C","d":740,"f":20.2,"lo":19.1,"hi":21.3},{"t":"30°C","d":780,"f":19.1,"lo":17.6,"hi":20.6},{"t":"30°C","d":800,"f":18.4,"lo":16.5,"hi":20.3}
]
},
"vconcat": [
{
"columns": 3, "spacing": {"row": 0, "column": 45.5}, "bounds": "flush", "align": "each",
"concat": [
{"width": 261, "height": 32.5, "view": {"fill": "#EFEFEF", "stroke": null},
 "title": {"text": "A", "orient": "left", "angle": 0, "anchor": "middle", "frame": "group", "align": "left", "baseline": "middle", "offset": 66, "fontSize": 23, "fontWeight": "bold"},
 "data": {"values": [{"label": "Acclimation 𝑝CO₂ (400 µatm)"}]},
 "mark": {"type": "text", "fontSize": 18.5, "color": "#111"},
 "encoding": {"text": {"field": "label"}}},
{"width": 261, "height": 32.5, "view": {"fill": "#EFEFEF", "stroke": null},
 "data": {"values": [{"label": "Acclimation 𝑝CO₂ (1000 µatm)"}]},
 "mark": {"type": "text", "fontSize": 18.5, "color": "#111"},
 "encoding": {"text": {"field": "label"}}},
{"width": 261, "height": 32.5, "view": {"fill": "#EFEFEF", "stroke": null},
 "data": {"values": [{"label": "Acclimation 𝑝CO₂ (2000 µatm)"}]},
 "mark": {"type": "text", "fontSize": 18.5, "color": "#111"},
 "encoding": {"text": {"field": "label"}}},
{"width": 261, "height": 254.5,
 "encoding": {"x": {"field": "d", "type": "quantitative", "scale": {"domain": [-19, 839], "nice": false, "zero": false}, "axis": {"values": [0, 200, 400, 600, 800], "labels": false, "title": null}}},
 "layer": [
  {"data": {"name": "fA400"}, "transform": [{"filter": "isValid(datum.lo)"}], "mark": {"type": "area", "interpolate": "monotone", "color": "#D93B53", "opacity": 0.4},
   "encoding": {"y": {"field": "lo", "type": "quantitative", "scale": {"domain": [-0.04, 0.84], "nice": false, "zero": false}, "axis": {"values": [0, 0.4, 0.8], "format": "~g", "title": "SGR (day⁻¹)", "minExtent": 36, "maxExtent": 36, "titlePadding": 14.5}}, "y2": {"field": "hi"}}},
  {"data": {"name": "pA400"}, "mark": {"type": "circle", "size": 58, "opacity": 1},
   "encoding": {"y": {"field": "v", "type": "quantitative", "scale": {"domain": [-0.04, 0.84], "nice": false, "zero": false}, "axis": {"values": [0, 0.4, 0.8], "format": "~g", "title": "SGR (day⁻¹)", "minExtent": 36, "maxExtent": 36, "titlePadding": 14.5}},
    "color": {"field": "t", "type": "nominal", "scale": {"domain": ["20°C", "25°C", "30°C"], "range": ["#4DB291", "#6B8FCD", "#D93B53"]},
     "legend": {"title": "Acclimation temperature:", "orient": "none", "legendX": 2, "legendY": -40.5, "direction": "horizontal", "titleOrient": "left", "titleAnchor": "middle", "titleBaseline": "middle", "titleLimit": 500, "titleFontSize": 18.5, "titleFontWeight": "normal", "titleColor": "#111", "labelFontSize": 18.5, "labelColor": "#111", "symbolType": "M-1,0H1M-0.18,0A0.18,0.18,0,1,0,0.18,0A0.18,0.18,0,1,0,-0.18,0Z", "symbolSize": 1521, "symbolStrokeWidth": 2, "labelOffset": 9, "columnPadding": 15, "titlePadding": 9, "padding": 0,
      "encode": {"symbols": {"update": {"fill": {"scale": "color", "field": "value"}, "stroke": {"scale": "color", "field": "value"}, "opacity": {"value": 1}}}}}}}},
  {"data": {"name": "fA400"}, "mark": {"type": "line", "interpolate": "monotone", "strokeWidth": 3.5},
   "encoding": {"y": {"field": "f", "type": "quantitative", "scale": {"domain": [-0.04, 0.84], "nice": false, "zero": false}, "axis": {"values": [0, 0.4, 0.8], "format": "~g", "title": "SGR (day⁻¹)", "minExtent": 36, "maxExtent": 36, "titlePadding": 14.5}},
    "color": {"field": "t", "type": "nominal", "legend": null}}}
 ]},
{"width": 261, "height": 254.5,
 "encoding": {"x": {"field": "d", "type": "quantitative", "scale": {"domain": [-19, 839], "nice": false, "zero": false}, "axis": {"values": [0, 200, 400, 600, 800], "labels": false, "title": null}}},
 "layer": [
  {"data": {"name": "fA1000"}, "transform": [{"filter": "isValid(datum.lo)"}], "mark": {"type": "area", "interpolate": "monotone", "color": "#D93B53", "opacity": 0.4},
   "encoding": {"y": {"field": "lo", "type": "quantitative", "scale": {"domain": [-0.04, 0.84], "nice": false, "zero": false}, "axis": {"values": [0, 0.4, 0.8], "labels": false, "title": null}}, "y2": {"field": "hi"}}},
  {"data": {"name": "pA1000"}, "mark": {"type": "circle", "size": 58, "opacity": 1},
   "encoding": {"y": {"field": "v", "type": "quantitative", "scale": {"domain": [-0.04, 0.84], "nice": false, "zero": false}, "axis": {"values": [0, 0.4, 0.8], "labels": false, "title": null}},
    "color": {"field": "t", "type": "nominal", "legend": null}}},
  {"data": {"name": "fA1000"}, "mark": {"type": "line", "interpolate": "monotone", "strokeWidth": 3.5},
   "encoding": {"y": {"field": "f", "type": "quantitative", "scale": {"domain": [-0.04, 0.84], "nice": false, "zero": false}, "axis": {"values": [0, 0.4, 0.8], "labels": false, "title": null}},
    "color": {"field": "t", "type": "nominal", "legend": null}}}
 ]},
{"width": 261, "height": 254.5,
 "encoding": {"x": {"field": "d", "type": "quantitative", "scale": {"domain": [-19, 839], "nice": false, "zero": false}, "axis": {"values": [0, 200, 400, 600, 800], "labels": false, "title": null}}},
 "layer": [
  {"data": {"name": "fA2000"}, "transform": [{"filter": "isValid(datum.lo)"}], "mark": {"type": "area", "interpolate": "monotone", "color": "#D93B53", "opacity": 0.4},
   "encoding": {"y": {"field": "lo", "type": "quantitative", "scale": {"domain": [-0.04, 0.84], "nice": false, "zero": false}, "axis": {"values": [0, 0.4, 0.8], "labels": false, "title": null}}, "y2": {"field": "hi"}}},
  {"data": {"name": "pA2000"}, "mark": {"type": "circle", "size": 58, "opacity": 1},
   "encoding": {"y": {"field": "v", "type": "quantitative", "scale": {"domain": [-0.04, 0.84], "nice": false, "zero": false}, "axis": {"values": [0, 0.4, 0.8], "labels": false, "title": null}},
    "color": {"field": "t", "type": "nominal", "legend": null}}},
  {"data": {"name": "fA2000"}, "mark": {"type": "line", "interpolate": "monotone", "strokeWidth": 3.5},
   "encoding": {"y": {"field": "f", "type": "quantitative", "scale": {"domain": [-0.04, 0.84], "nice": false, "zero": false}, "axis": {"values": [0, 0.4, 0.8], "labels": false, "title": null}},
    "color": {"field": "t", "type": "nominal", "legend": null}}}
 ]}
]
},
{
"spacing": 45.5, "bounds": "flush",
"hconcat": [
{"width": 261, "height": 254.5,
 "title": {"text": "B", "orient": "top", "anchor": "start", "frame": "group", "align": "left", "baseline": "alphabetic", "dx": -82, "dy": 22, "offset": 1, "fontSize": 23, "fontWeight": "bold"},
 "encoding": {"x": {"field": "d", "type": "quantitative", "scale": {"domain": [-19, 839], "nice": false, "zero": false}, "axis": {"values": [0, 200, 400, 600, 800], "title": "Time (days)", "titlePadding": 7}}},
 "layer": [
  {"data": {"name": "fB400"}, "transform": [{"filter": "isValid(datum.lo)"}], "mark": {"type": "area", "interpolate": "monotone", "color": "#D93B53", "opacity": 0.4},
   "encoding": {"y": {"field": "lo", "type": "quantitative", "scale": {"domain": [-1.5, 31.5], "nice": false, "zero": false}, "axis": {"values": [0, 15, 30], "title": "DA concentration (mg gC⁻¹)", "minExtent": 36, "maxExtent": 36, "titlePadding": 14.5}}, "y2": {"field": "hi"}}},
  {"data": {"name": "pB400"}, "mark": {"type": "circle", "size": 58, "opacity": 1},
   "encoding": {"y": {"field": "v", "type": "quantitative", "scale": {"domain": [-1.5, 31.5], "nice": false, "zero": false}, "axis": {"values": [0, 15, 30], "title": "DA concentration (mg gC⁻¹)", "minExtent": 36, "maxExtent": 36, "titlePadding": 14.5}},
    "color": {"field": "t", "type": "nominal", "legend": null}}},
  {"data": {"name": "fB400"}, "mark": {"type": "line", "interpolate": "monotone", "strokeWidth": 3.5},
   "encoding": {"y": {"field": "f", "type": "quantitative", "scale": {"domain": [-1.5, 31.5], "nice": false, "zero": false}, "axis": {"values": [0, 15, 30], "title": "DA concentration (mg gC⁻¹)", "minExtent": 36, "maxExtent": 36, "titlePadding": 14.5}},
    "color": {"field": "t", "type": "nominal", "legend": null}}}
 ]},
{"width": 261, "height": 254.5,
 "encoding": {"x": {"field": "d", "type": "quantitative", "scale": {"domain": [-19, 839], "nice": false, "zero": false}, "axis": {"values": [0, 200, 400, 600, 800], "title": "Time (days)", "titlePadding": 7}}},
 "layer": [
  {"data": {"name": "fB1000"}, "transform": [{"filter": "isValid(datum.lo)"}], "mark": {"type": "area", "interpolate": "monotone", "color": "#D93B53", "opacity": 0.4},
   "encoding": {"y": {"field": "lo", "type": "quantitative", "scale": {"domain": [-1.5, 31.5], "nice": false, "zero": false}, "axis": {"values": [0, 15, 30], "labels": false, "title": null}}, "y2": {"field": "hi"}}},
  {"data": {"name": "pB1000"}, "mark": {"type": "circle", "size": 58, "opacity": 1},
   "encoding": {"y": {"field": "v", "type": "quantitative", "scale": {"domain": [-1.5, 31.5], "nice": false, "zero": false}, "axis": {"values": [0, 15, 30], "labels": false, "title": null}},
    "color": {"field": "t", "type": "nominal", "legend": null}}},
  {"data": {"name": "fB1000"}, "mark": {"type": "line", "interpolate": "monotone", "strokeWidth": 3.5},
   "encoding": {"y": {"field": "f", "type": "quantitative", "scale": {"domain": [-1.5, 31.5], "nice": false, "zero": false}, "axis": {"values": [0, 15, 30], "labels": false, "title": null}},
    "color": {"field": "t", "type": "nominal", "legend": null}}}
 ]},
{"width": 261, "height": 254.5,
 "encoding": {"x": {"field": "d", "type": "quantitative", "scale": {"domain": [-19, 839], "nice": false, "zero": false}, "axis": {"values": [0, 200, 400, 600, 800], "title": "Time (days)", "titlePadding": 7}}},
 "layer": [
  {"data": {"name": "fB2000"}, "transform": [{"filter": "isValid(datum.lo)"}], "mark": {"type": "area", "interpolate": "monotone", "color": "#D93B53", "opacity": 0.4},
   "encoding": {"y": {"field": "lo", "type": "quantitative", "scale": {"domain": [-1.5, 31.5], "nice": false, "zero": false}, "axis": {"values": [0, 15, 30], "labels": false, "title": null}}, "y2": {"field": "hi"}}},
  {"data": {"name": "pB2000"}, "mark": {"type": "circle", "size": 58, "opacity": 1},
   "encoding": {"y": {"field": "v", "type": "quantitative", "scale": {"domain": [-1.5, 31.5], "nice": false, "zero": false}, "axis": {"values": [0, 15, 30], "labels": false, "title": null}},
    "color": {"field": "t", "type": "nominal", "legend": null}}},
  {"data": {"name": "fB2000"}, "mark": {"type": "line", "interpolate": "monotone", "strokeWidth": 3.5},
   "encoding": {"y": {"field": "f", "type": "quantitative", "scale": {"domain": [-1.5, 31.5], "nice": false, "zero": false}, "axis": {"values": [0, 15, 30], "labels": false, "title": null}},
    "color": {"field": "t", "type": "nominal", "legend": null}}}
 ]}
]
}
],
"spacing": 14.7
}
